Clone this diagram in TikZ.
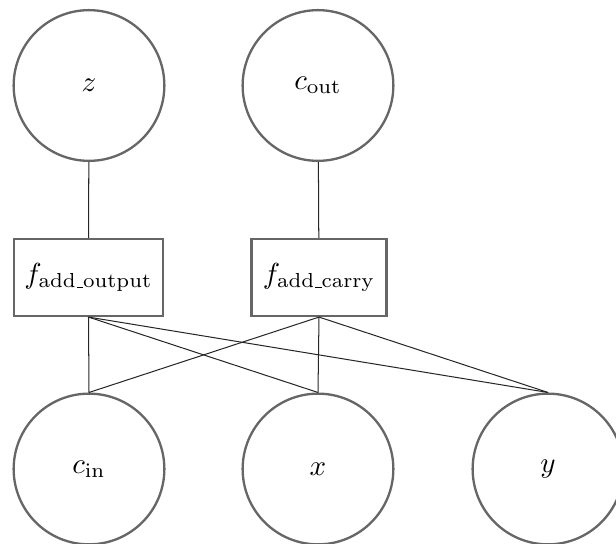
\documentclass[tikz,border=0pt]{standalone}
\usepackage{amsmath}
\newcommand\myus{\leavevmode\kern.06em\vbox{\hrule width.3em}}
\begin{document}
\begin{tikzpicture}[x=0.345pt,y=-0.345pt,
  var/.style={circle,draw=black!60,line width=0.8pt,minimum size=52pt,inner sep=0pt},
  fac/.style={rectangle,draw=black!60,line width=0.8pt,minimum height=26.5pt,inner sep=0pt},
  edge/.style={draw=black!85,line width=0.35pt}]
\useasboundingbox (0,0) rectangle (616,544);
\node[var] (z) at (89,85.5) {$z$};
\node[var] (cout) at (318,85.5) {$c_{\mathrm{out}}$};
\node[fac,minimum width=51.5pt] (fo) at (88.5,277.5) {$f_{\text{add\myus output}}$};
\node[fac,minimum width=46.5pt] (fc) at (319,277.5) {$f_{\text{add\myus carry}}$};
\node[var] (cin) at (89,469) {$c_{\mathrm{in}}$};
\node[var] (x) at (318,469) {$x$};
\node[var] (y) at (548,469) {$y$};
\draw[edge] (z) -- (fo);
\draw[edge] (cout) -- (fc);
\draw[edge] (fo.south) -- (cin.north);
\draw[edge] (fo.south) -- (x.north);
\draw[edge] (fo.south) -- (y.north);
\draw[edge] (fc.south) -- (cin.north);
\draw[edge] (fc.south) -- (x.north);
\draw[edge] (fc.south) -- (y.north);
\end{tikzpicture}
\end{document}
